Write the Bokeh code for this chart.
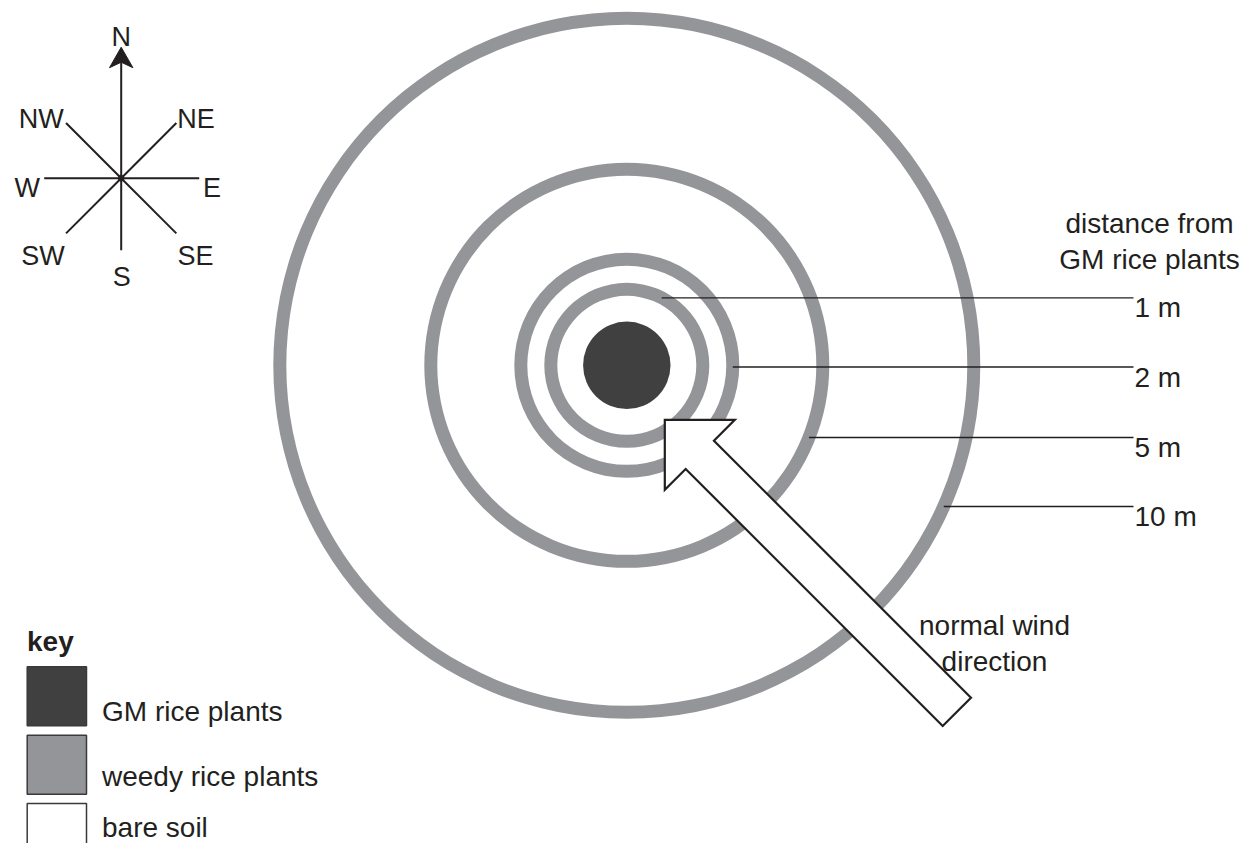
import math
from bokeh.plotting import figure
from bokeh.models import Range1d
from bokeh.core.properties import value
from bokeh.embed import file_html
from bokeh.resources import INLINE

# ---------------- data ----------------
distance_m = [1, 2, 5, 10]
distance_labels = ["1 m", "2 m", "5 m", "10 m"]
distance_title = ["distance from", "GM rice plants"]
compass_points = ["N", "NE", "E", "SE", "S", "SW", "W", "NW"]
compass_bearing_deg = [0, 45, 90, 135, 180, 225, 270, 315]
wind_from = "SE"
wind_label = ["normal wind", "direction"]
key_title = "key"
key_labels = ["GM rice plants", "weedy rice plants", "bare soil"]

# ---------------- layout / style ----------------
FONT = value("Liberation Sans")
INK = "#231f20"
GREY = "#939598"
DARK = "#404041"

W, H = 1244, 843
CX, CY = 626.3, 364.8            # centre of the GM plot
GM_R = 43.7
RING_R = [76, 106, 196, 347]     # drawn radius of each distance ring (not to scale)
RING_T = 13
LEADER_Y = [297.3, 366.5, 437.0, 506.0]
LEADER_END = 1133
LABEL_X = 1134
TITLE_X = 1149

COMP_X, COMP_Y = 120.7, 177.7
COMP_LEN = [116, 78, 78, 78, 72, 78, 77, 78]
COMP_LABEL_OFF = {"N": (0, -141.7), "NE": (74.8, -59.4), "E": (90.8, 9.6),
                  "SE": (74.3, 77.3), "S": (0.6, 99.0), "SW": (-78.2, 77.3),
                  "W": (-94.0, 9.6), "NW": (-79.9, -59.4)}

p = figure(width=W, height=H, x_range=Range1d(0, W), y_range=Range1d(H, 0),
           output_backend="svg", toolbar_location=None, min_border=0,
           background_fill_color="white", border_fill_color="white")
p.axis.visible = False
p.grid.visible = False
p.outline_line_color = None

# rings of weedy rice
p.annulus(x=[CX] * len(RING_R), y=[CY] * len(RING_R),
          inner_radius=[r - RING_T / 2 for r in RING_R],
          outer_radius=[r + RING_T / 2 for r in RING_R],
          fill_color=GREY, line_color=None)
# GM rice plants
p.circle(x=[CX], y=[CY], radius=GM_R, fill_color=DARK, line_color=None)

# leader lines
xs, ys = [], []
for r, y in zip(RING_R, LEADER_Y):
    x0 = CX + math.sqrt(max(r * r - (y - CY) ** 2, 0))
    xs.append([x0, LEADER_END])
    ys.append([y, y])
p.multi_line(xs, ys, line_color=INK, line_width=1.3)
p.text(x=[LABEL_X] * 4, y=[y + 10 for y in LEADER_Y], text=distance_labels,
       text_font=FONT, text_font_size="28px", text_color=INK,
       text_align="left", text_baseline="alphabetic")
p.text(x=[TITLE_X, TITLE_X], y=[223, 258.5], text=distance_title,
       text_font=FONT, text_font_size="28px", text_color=INK,
       text_align="center", text_baseline="alphabetic")

# wind arrow (points opposite to the direction the wind comes from)
b = math.radians(compass_bearing_deg[compass_points.index(wind_from)])
u = (math.sin(b), -math.cos(b))      # from tip toward tail
v = (u[1], -u[0])                    # perpendicular
TIP = (664.3, 419.3)
HEAD_L, HEAD_HW, SHAFT_HW, TAIL_L = 49.5, 49.5, 20.0, 413.0
def pt(a, w):
    return (TIP[0] + a * u[0] + w * v[0], TIP[1] + a * u[1] + w * v[1])
poly = [pt(0, 0), pt(HEAD_L, HEAD_HW), pt(HEAD_L, SHAFT_HW), pt(TAIL_L, SHAFT_HW),
        pt(TAIL_L, -SHAFT_HW), pt(HEAD_L, -SHAFT_HW), pt(HEAD_L, -HEAD_HW)]
p.patch([q[0] for q in poly], [q[1] for q in poly], fill_color="white",
        line_color=INK, line_width=2.2, line_join="miter")
p.text(x=[994, 994], y=[625, 661], text=wind_label,
       text_font=FONT, text_font_size="28px", text_color=INK,
       text_align="center", text_baseline="alphabetic")

# compass
cxs, cys = [], []
for name, brg, ln in zip(compass_points, compass_bearing_deg, COMP_LEN):
    a = math.radians(brg)
    cxs.append([COMP_X, COMP_X + ln * math.sin(a)])
    cys.append([COMP_Y, COMP_Y - ln * math.cos(a)])
p.multi_line(cxs, cys, line_color=INK, line_width=2)
p.patch([COMP_X, COMP_X - 11.7, COMP_X, COMP_X + 11.7],
        [COMP_Y - 131, COMP_Y - 110.5, COMP_Y - 116, COMP_Y - 110.5],
        fill_color=INK, line_color=INK, line_width=1)
p.circle(x=[COMP_X], y=[COMP_Y], radius=3.2, fill_color=INK, line_color=None)
p.text(x=[COMP_X + COMP_LABEL_OFF[n][0] for n in compass_points],
       y=[COMP_Y + COMP_LABEL_OFF[n][1] for n in compass_points],
       text=compass_points, text_font=FONT, text_font_size="27px", text_color=INK,
       text_align="center", text_baseline="alphabetic")

# key
p.text(x=[26.5], y=[641], text=[key_title], text_font=FONT, text_font_size="28px",
       text_font_style="bold", text_color=INK, text_align="left",
       text_baseline="alphabetic")
KEY_X0, KEY_X1, KEY_TOP, KEY_S, KEY_STEP = 26.7, 86.0, 666.3, 59.0, 68.35
tops = [KEY_TOP + i * KEY_STEP for i in range(len(key_labels))]
p.quad(left=[KEY_X0] * 3, right=[KEY_X1] * 3, top=tops, bottom=[t + KEY_S for t in tops],
       fill_color=[DARK, GREY, "white"], line_color="#3a3a3b", line_width=1.5)
key_baselines = [710.7, 776.3, 827.0]
p.text(x=[101.5] * 3, y=key_baselines, text=key_labels,
       text_font=FONT, text_font_size="28px", text_color=INK,
       text_align="left", text_baseline="alphabetic")

open("out.html", "w").write(file_html(p, INLINE))
